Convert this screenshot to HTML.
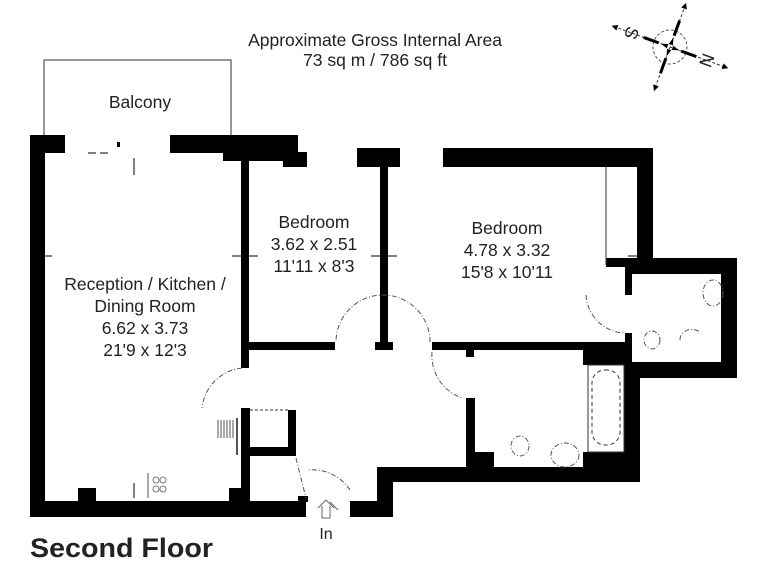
<!DOCTYPE html>
<html><head><style>
body{margin:0;background:#fff}
svg{display:block}
text{font-family:"Liberation Sans",sans-serif;fill:#222}
</style></head><body>
<svg width="768" height="576" viewBox="0 0 768 576">
<!-- titles -->
<text x="375" y="46" font-size="17.5" text-anchor="middle">Approximate Gross Internal Area</text>
<text x="375" y="66" font-size="17.5" text-anchor="middle">73 sq m / 786 sq ft</text>
<text x="30" y="557" font-size="27" font-weight="bold" textLength="183" lengthAdjust="spacingAndGlyphs">Second Floor</text>
<text x="326" y="539" font-size="16" text-anchor="middle">In</text>

<!-- balcony -->
<path d="M44 135 V60 H231 V135" fill="none" stroke="#777" stroke-width="1.5"/>
<text x="140" y="108" font-size="17.5" text-anchor="middle">Balcony</text>

<g fill="#000">
<rect x="30" y="135" width="15" height="382"/>
<rect x="30" y="501" width="276" height="16"/>
<rect x="30" y="135" width="35" height="18"/>
<rect x="170" y="135" width="128" height="18"/>
<rect x="223" y="152" width="84" height="9"/>
<rect x="283" y="152" width="24" height="15"/>
<rect x="78" y="488" width="18" height="14"/>
<rect x="229" y="488" width="21" height="14"/>
<rect x="241" y="160" width="8" height="208"/>
<rect x="249" y="342" width="86" height="8"/>
<rect x="357" y="148" width="43" height="19"/>
<rect x="380" y="148" width="8" height="201"/>
<rect x="375" y="342" width="18" height="8"/>
<rect x="241" y="408" width="9" height="95"/>
<rect x="288" y="410" width="8" height="46"/>
<rect x="250" y="447" width="46" height="9"/>
<rect x="298" y="496" width="10" height="6"/>
<rect x="443" y="148" width="210" height="19"/>
<rect x="637" y="148" width="16" height="119"/>
<rect x="606" y="258" width="47" height="9"/>
<path d="M653 258 H737 V378 H640 V362 H721 V274 H632 V295 H625 V267 H653 Z"/>
<rect x="625" y="333" width="7" height="30"/>
<rect x="432" y="342" width="200" height="8"/>
<rect x="583" y="342" width="49" height="23"/>
<rect x="466" y="349" width="8" height="8"/>
<rect x="624" y="362" width="16" height="120"/>
<rect x="377" y="467" width="263" height="15"/>
<rect x="377" y="467" width="16" height="50"/>
<rect x="350" y="501" width="43" height="16"/>
<rect x="466" y="398" width="9" height="69"/>
<rect x="466" y="452" width="28" height="15"/>
<rect x="583" y="452" width="41" height="15"/>
</g>

<g fill="none" stroke="#333" stroke-width="1">
<line x1="606" y1="167" x2="606" y2="265"/>
<rect x="588" y="365" width="36" height="87"/>
<rect x="592" y="370" width="28" height="75" rx="13" stroke-dasharray="4 3"/>
<line x1="250" y1="410" x2="288" y2="410" stroke-dasharray="3 2"/>
</g>
<g fill="none" stroke="#555" stroke-width="1" stroke-dasharray="5 2 1 2">
<path d="M430 342 A 47 47 0 0 0 336 342"/>
<path d="M242 368 A 45 45 0 0 0 202 408"/>
<path d="M432 352 A 45 45 0 0 0 462 398"/>
<path d="M586 295 A 40 40 0 0 0 625 333"/>
<path d="M296 458 L306 498"/>
<path d="M350 490 A 45 45 0 0 0 308 470"/>
<ellipse cx="520" cy="446" rx="9" ry="10"/>
<ellipse cx="565" cy="455" rx="14" ry="12"/>
<ellipse cx="713" cy="293" rx="10" ry="13"/>
<ellipse cx="652" cy="340" rx="8" ry="9"/>
<path d="M680 340 a12 10 0 0 1 20 -8"/>
</g>
<g stroke="#555" stroke-width="1">
<line x1="218" y1="420" x2="218" y2="438"/><line x1="221" y1="420" x2="221" y2="438"/><line x1="224" y1="420" x2="224" y2="438"/><line x1="227" y1="420" x2="227" y2="438"/><line x1="230" y1="420" x2="230" y2="438"/><line x1="233" y1="420" x2="233" y2="438"/>
<line x1="237" y1="418" x2="237" y2="455" stroke-width="2"/>
<line x1="148" y1="473" x2="148" y2="498"/>
</g>
<circle cx="156" cy="480" r="3" fill="none" stroke="#777"/><circle cx="163" cy="480" r="3" fill="none" stroke="#777"/>
<circle cx="156" cy="489" r="3" fill="none" stroke="#777"/><circle cx="163" cy="489" r="3" fill="none" stroke="#777"/>
<g stroke="#000" stroke-width="1">
<line x1="134" y1="158" x2="134" y2="175"/><line x1="134" y1="483" x2="134" y2="498"/>
<line x1="88" y1="153" x2="96" y2="153"/><line x1="100" y1="153" x2="108" y2="153"/>
<line x1="232" y1="256" x2="241" y2="256"/><line x1="249" y1="256" x2="258" y2="256"/>
<line x1="371" y1="256" x2="380" y2="256"/><line x1="388" y1="256" x2="397" y2="256"/>
<line x1="45" y1="256" x2="52" y2="256"/>
<line x1="628" y1="256" x2="637" y2="256"/>
</g>
<rect x="117" y="142" width="3" height="5" fill="#000"/>
<g fill="none" stroke="#666" stroke-width="1">
<path d="M318 508 L326 500 L334 508 M322 506 V518 H330 V506"/>
<line x1="330" y1="502" x2="338" y2="510"/>
</g>

<g font-size="17.5" text-anchor="middle">
<text x="145" y="290">Reception / Kitchen /</text>
<text x="145" y="312">Dining Room</text>
<text x="145" y="334">6.62 x 3.73</text>
<text x="145" y="356">21'9 x 12'3</text>
<text x="314" y="228">Bedroom</text>
<text x="314" y="250">3.62 x 2.51</text>
<text x="314" y="272">11'11 x 8'3</text>
<text x="507" y="234">Bedroom</text>
<text x="507" y="256">4.78 x 3.32</text>
<text x="507" y="278">15'8 x 10'11</text>
</g>

<g transform="translate(670,47) rotate(20)">
<circle r="17" fill="none" stroke="#555" stroke-dasharray="3 2"/>
<line x1="-60" y1="0" x2="60" y2="0" stroke="#333" stroke-dasharray="3 2"/>
<line x1="0" y1="-45" x2="0" y2="45" stroke="#333" stroke-dasharray="3 2"/>
<line x1="-28" y1="0" x2="-12" y2="0" stroke="#000" stroke-width="3"/>
<line x1="12" y1="0" x2="28" y2="0" stroke="#000" stroke-width="3"/>
<line x1="0" y1="-28" x2="0" y2="-12" stroke="#000" stroke-width="3"/>
<line x1="0" y1="12" x2="0" y2="28" stroke="#000" stroke-width="3"/>
<path d="M0 -10 L3 0 L0 10 L-3 0Z M-10 0 L0 3 L10 0 L0 -3Z" fill="#000"/>
<path d="M-62 0 l6 -3 v6z M62 0 l-6 -3 v6z M0 -47 l-3 6 h6z M0 47 l-3 -6 h6z" fill="#000"/>
<text x="-40" y="7" font-size="18" text-anchor="middle" transform="rotate(90 -40 0)">S</text>
<text x="40" y="7" font-size="18" text-anchor="middle" transform="rotate(90 40 0)">N</text>
</g>
</svg>
</body></html>
